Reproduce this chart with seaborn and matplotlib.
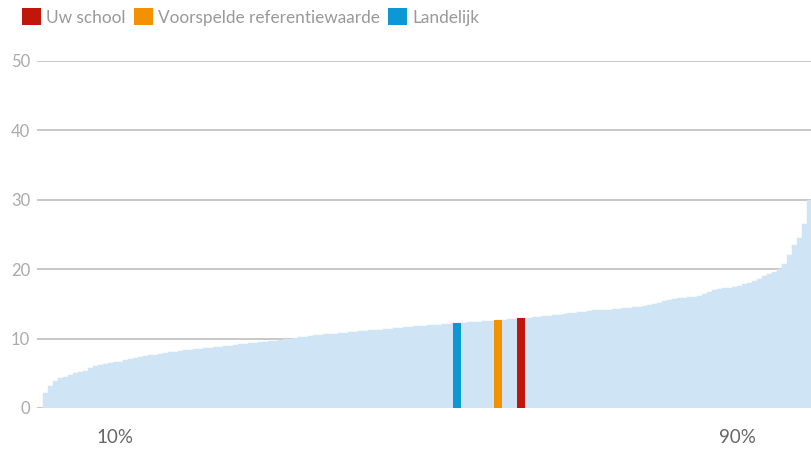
import matplotlib
matplotlib.use("Agg")
import matplotlib.pyplot as plt
import seaborn as sns
import pandas as pd
from matplotlib.patches import Patch

# gesorteerde scores van alle scholen (van laag naar hoog)
scores = [
    2.2, 3.2, 3.9, 4.3, 4.5, 4.7, 5.0, 5.2, 5.4, 5.7,
    6.0, 6.2, 6.4, 6.5, 6.6, 6.7, 6.9, 7.1, 7.2, 7.3,
    7.5, 7.6, 7.7, 7.8, 7.9, 8.0, 8.1, 8.2, 8.3, 8.4,
    8.45, 8.5, 8.6, 8.7, 8.75, 8.85, 8.9, 9.0, 9.1, 9.2,
    9.25, 9.3, 9.4, 9.5, 9.55, 9.6, 9.7, 9.8, 9.9, 10.0,
    10.1, 10.2, 10.3, 10.4, 10.45, 10.5, 10.6, 10.65, 10.7, 10.8,
    10.85, 10.9, 11.0, 11.05, 11.1, 11.2, 11.25, 11.3, 11.4, 11.45,
    11.5, 11.5, 11.6, 11.65, 11.75, 11.8, 11.85, 11.9, 11.95, 12.0,
    12.1, 12.15, 12.2, 12.25, 12.3, 12.35, 12.4, 12.45, 12.5, 12.55,
    12.6, 12.7, 12.75, 12.8, 12.85, 12.9, 13.0, 13.0, 13.05, 13.1,
    13.2, 13.25, 13.35, 13.45, 13.55, 13.65, 13.7, 13.8, 13.9, 14.0,
    14.05, 14.1, 14.1, 14.15, 14.2, 14.3, 14.35, 14.4, 14.5, 14.6,
    14.7, 14.8, 14.95, 15.1, 15.35, 15.6, 15.7, 15.8, 15.9, 16.0,
    16.05, 16.1, 16.4, 16.7, 17.0, 17.1, 17.25, 17.35, 17.45, 17.6,
    17.8, 18.0, 18.3, 18.6, 19.0, 19.3, 19.6, 20.1, 20.8, 22.0,
    23.5, 24.5, 26.5, 30.0,
]

# uitgelichte waarden en hun plek in de rangorde
highlight_labels = ["Uw school", "Voorspelde referentiewaarde", "Landelijk"]
highlight_values = [13.0, 12.7, 12.25]
highlight_ranks = [95.3, 90.7, 82.5]
highlight_colors = ["#c0170a", "#f39200", "#0b98d4"]

tick_ranks = [13.9, 138.5]
tick_labels = ["10%", "90%"]

df = pd.DataFrame({"rank": range(len(scores)), "score": scores})

sns.set_style("white")
plt.rcParams["font.family"] = ["Lato", "DejaVu Sans"]

fig = plt.figure(figsize=(8.12, 4.49), dpi=100)
ax = fig.add_axes([37 / 812, 1 - 408 / 449, 1 - 37 / 812, (408 - 61) / 449])

sns.barplot(data=df, x="rank", y="score", color="#cfe5f5", saturation=1,
            width=1, edgecolor="#cfe5f5", linewidth=0.3, ax=ax)

ax.bar(highlight_ranks, highlight_values, width=1.6, color=highlight_colors,
       linewidth=0, zorder=3)

ax.set_xlim(-1.7, len(scores) - 0.5)
ax.set_ylim(0, 50)
ax.set_yticks([0, 10, 20, 30, 40, 50])
ax.set_xticks(tick_ranks)
ax.set_xticklabels(tick_labels)
ax.set_xlabel("")
ax.set_ylabel("")
ax.grid(axis="y", color="#c4c4c4", linewidth=1.3)
ax.set_axisbelow(True)
ax.axhline(0, color="#eeeeee", linewidth=1.5, zorder=0.5)
for s in ax.spines.values():
    s.set_visible(False)
ax.tick_params(axis="y", length=0, pad=5, labelsize=12, labelcolor="#aaaaaa")
ax.tick_params(axis="x", length=0, pad=15, labelsize=13.5, labelcolor="#666666")

handles = [Patch(facecolor=c, edgecolor="none") for c in highlight_colors]
fig.legend(handles, highlight_labels, loc="upper left", bbox_to_anchor=(0.012, 1.008),
           ncol=3, frameon=False, fontsize=12.4, labelcolor="#999999",
           handlelength=1.1, handleheight=1.1, handletextpad=0.33,
           columnspacing=0.45, borderaxespad=0.3)

fig.savefig("out.png", dpi=100)
